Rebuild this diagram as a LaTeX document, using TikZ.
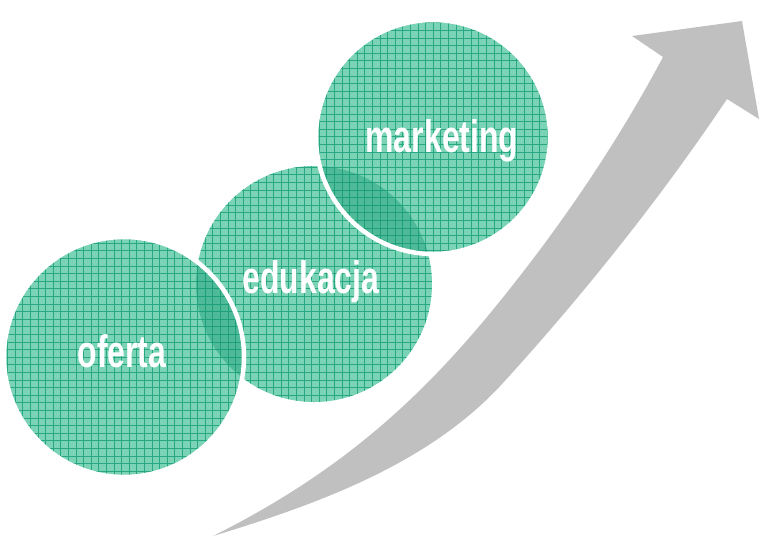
\documentclass[tikz,border=0pt]{standalone}
\usepackage{fontspec}
\setmainfont{Liberation Sans}
\usepackage{graphicx}
\definecolor{tealfill}{HTML}{7AD3B4}
\definecolor{tealgrid}{HTML}{27A883}
\definecolor{teallens}{HTML}{0E9670}
\definecolor{arrowgray}{HTML}{C0C0C0}
\tikzset{
  ball/.style={circle, inner sep=0pt, minimum size=#1},
  labeltext/.style={text=white, font=\fontsize{32}{32}\selectfont\bfseries, anchor=base, inner sep=0pt},
  gridline/.style={tealgrid, line width=0.8pt},
  rim/.style={white, line width=4.5pt},
}
\begin{document}
\begin{tikzpicture}[x=1pt,y=-1pt]
\useasboundingbox (0,0) rectangle (760,536);
% rising arrow
\fill[arrowgray] (213,536)
  .. controls (333,476) and (412,407) .. (487,317)
  .. controls (554,236) and (614,149) .. (663,57)
  -- (632,36) -- (742,21) -- (759,119) -- (727,99)
  .. controls (660,199) and (583,295) .. (503,383)
  .. controls (429,464) and (318,504) .. (213,536)
  -- cycle;
% circles
\node[ball=240pt] (oferta) at (124,357) {};
\node[ball=236pt] (edukacja) at (314,284) {};
\node[ball=234pt] (marketing) at (433,137) {};
\begin{scope}
  \clip (oferta.center) circle[radius=120pt] (edukacja.center) circle[radius=118pt] (marketing.center) circle[radius=117pt];
  \fill[tealfill] (0,0) rectangle (760,536);
  \foreach \i in {0,...,100} {\draw[gridline] (\i*7.6,0) -- (\i*7.6,536);}
  \foreach \j in {0,...,71} {\draw[gridline] (0,\j*7.6) -- (760,\j*7.6);}
\end{scope}
% overlaps
\begin{scope}
  \clip (oferta.center) circle[radius=120pt];
  \fill[teallens, opacity=0.4] (edukacja.center) circle[radius=118pt];
\end{scope}
\begin{scope}
  \clip (marketing.center) circle[radius=117pt];
  \fill[teallens, opacity=0.4] (edukacja.center) circle[radius=118pt];
\end{scope}
% white rims
\draw[rim] (oferta.center) circle[radius=120pt];
\draw[rim] (marketing.center) circle[radius=117pt];
% labels
\node[labeltext] (toferta) at (122,367) {\scalebox{1}[1.42]{oferta}};
\node[labeltext] (tedukacja) at (311,293) {\scalebox{1}[1.42]{edukacja}};
\node[labeltext] (tmarketing) at (442,152) {\scalebox{1}[1.42]{marketing}};
\end{tikzpicture}
\end{document}
